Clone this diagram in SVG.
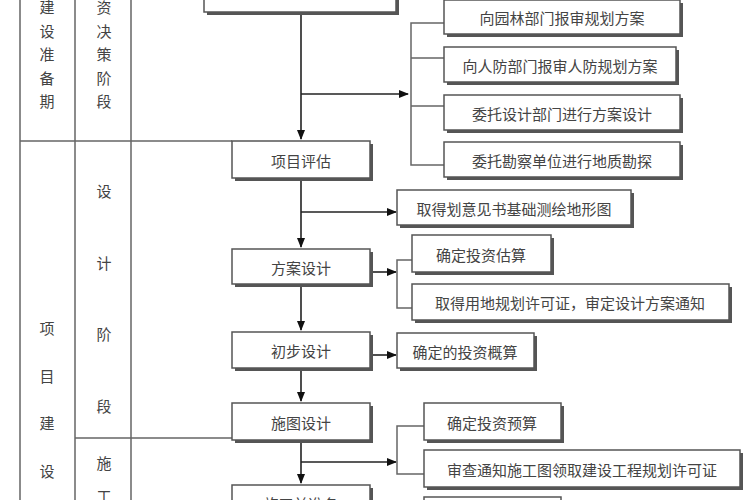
<svg xmlns="http://www.w3.org/2000/svg" width="750" height="500" viewBox="0 0 750 500">
<defs>
<marker id="a" markerWidth="10" markerHeight="10" refX="9" refY="5" orient="auto" markerUnits="userSpaceOnUse"><path d="M0,1 L10,5 L0,9 Z" fill="#111"/></marker>
</defs>
<style>
.b{fill:#fff;stroke:#555;stroke-width:1.5}
.s{fill:#555}
.t{font-family:"Noto Sans CJK SC",sans-serif;font-size:15px;fill:#444;text-anchor:middle;dominant-baseline:central}
.l{stroke:#222;stroke-width:1.6;fill:none}
.g{stroke:#666;stroke-width:1.5;fill:none}
</style>
<rect width="750" height="500" fill="#fff"/>
<g id="frame">
<path class="g" d="M20,0 V500 M75,0 V500 M131,0 V500 M20,141 H232 M75,438 H232"/>
<g class="t">
<text x="47" y="6">建</text><text x="47" y="30">设</text><text x="47" y="53">准</text><text x="47" y="77">备</text><text x="47" y="100">期</text>
<text x="47" y="327">项</text><text x="47" y="375">目</text><text x="47" y="422">建</text><text x="47" y="470">设</text>
<text x="104" y="6">资</text><text x="104" y="30">决</text><text x="104" y="53">策</text><text x="104" y="77">阶</text><text x="104" y="100">段</text>
<text x="104" y="190">设</text><text x="104" y="262">计</text><text x="104" y="333">阶</text><text x="104" y="405">段</text>
<text x="104" y="462">施</text><text x="104" y="495">工</text>
</g>
</g>
<g id="connectors">
<path class="l" d="M301,12 V139" marker-end="url(#a)"/>
<path class="l" d="M301,94 H408" marker-end="url(#a)"/>
<path class="g" d="M444,23 H411 V165 H444 M411,58 H444 M411,106 H444"/>
<path class="l" d="M301,178 V247" marker-end="url(#a)"/>
<path class="l" d="M301,212 H396" marker-end="url(#a)"/>
<path class="l" d="M370,272 H396" marker-end="url(#a)"/>
<path class="g" d="M412,260 H397 V308 H412"/>
<path class="l" d="M301,284 V330" marker-end="url(#a)"/>
<path class="l" d="M370,355 H396" marker-end="url(#a)"/>
<path class="l" d="M301,368 V401" marker-end="url(#a)"/>
<path class="l" d="M301,440 V483" marker-end="url(#a)"/>
<path class="l" d="M301,462 H396" marker-end="url(#a)"/>
<path class="g" d="M424,426 H397 V474 H424"/>
</g>
<g id="n0"><rect class="s" x="207" y="-10" width="192" height="25"/><rect class="b" x="204" y="-10" width="192" height="22"/></g>
<g id="n1"><rect class="s" x="447" y="3" width="236" height="34"/><rect class="b" x="444" y="0" width="236" height="34"/><text class="t" x="562" y="17">向园林部门报审规划方案</text></g>
<g id="n2"><rect class="s" x="447" y="50" width="232" height="35"/><rect class="b" x="444" y="47" width="232" height="35"/><text class="t" x="560" y="65">向人防部门报审人防规划方案</text></g>
<g id="n3"><rect class="s" x="447" y="98" width="236" height="35"/><rect class="b" x="444" y="95" width="236" height="35"/><text class="t" x="562" y="113">委托设计部门进行方案设计</text></g>
<g id="n4"><rect class="s" x="447" y="145" width="236" height="35"/><rect class="b" x="444" y="142" width="236" height="35"/><text class="t" x="562" y="160">委托勘察单位进行地质勘探</text></g>
<g id="n5"><rect class="s" x="235" y="144" width="138" height="37"/><rect class="b" x="232" y="141" width="138" height="37"/><text class="t" x="301" y="160">项目评估</text></g>
<g id="n6"><rect class="s" x="400" y="193" width="234" height="35"/><rect class="b" x="397" y="190" width="234" height="35"/><text class="t" x="514" y="208">取得划意见书基础测绘地形图</text></g>
<g id="n7"><rect class="s" x="235" y="252" width="138" height="35"/><rect class="b" x="232" y="249" width="138" height="35"/><text class="t" x="301" y="267">方案设计</text></g>
<g id="n8"><rect class="s" x="415" y="238" width="139" height="37"/><rect class="b" x="412" y="235" width="139" height="37"/><text class="t" x="481" y="254">确定投资估算</text></g>
<g id="n9"><rect class="s" x="415" y="287" width="317" height="36"/><rect class="b" x="412" y="284" width="317" height="36"/><text class="t" x="570" y="302">取得用地规划许可证，审定设计方案通知</text></g>
<g id="n10"><rect class="s" x="235" y="335" width="138" height="36"/><rect class="b" x="232" y="332" width="138" height="36"/><text class="t" x="301" y="350">初步设计</text></g>
<g id="n11"><rect class="s" x="400" y="336" width="137" height="35"/><rect class="b" x="397" y="333" width="137" height="35"/><text class="t" x="465" y="351">确定的投资概算</text></g>
<g id="n12"><rect class="s" x="235" y="406" width="138" height="37"/><rect class="b" x="232" y="403" width="138" height="37"/><text class="t" x="301" y="422">施图设计</text></g>
<g id="n13"><rect class="s" x="427" y="406" width="137" height="37"/><rect class="b" x="424" y="403" width="137" height="37"/><text class="t" x="492" y="422">确定投资预算</text></g>
<g id="n14"><rect class="s" x="427" y="453" width="316" height="37"/><rect class="b" x="424" y="450" width="316" height="37"/><text class="t" x="582" y="469">审查通知施工图领取建设工程规划许可证</text></g>
<g id="n15"><rect class="s" x="235" y="488" width="138" height="30"/><rect class="b" x="232" y="485" width="138" height="30"/><text class="t" x="301" y="503">施工前准备</text></g>
<g id="n16"><rect class="s" x="427" y="500" width="137" height="20"/><rect class="b" x="424" y="497" width="137" height="20"/></g>
</svg>
